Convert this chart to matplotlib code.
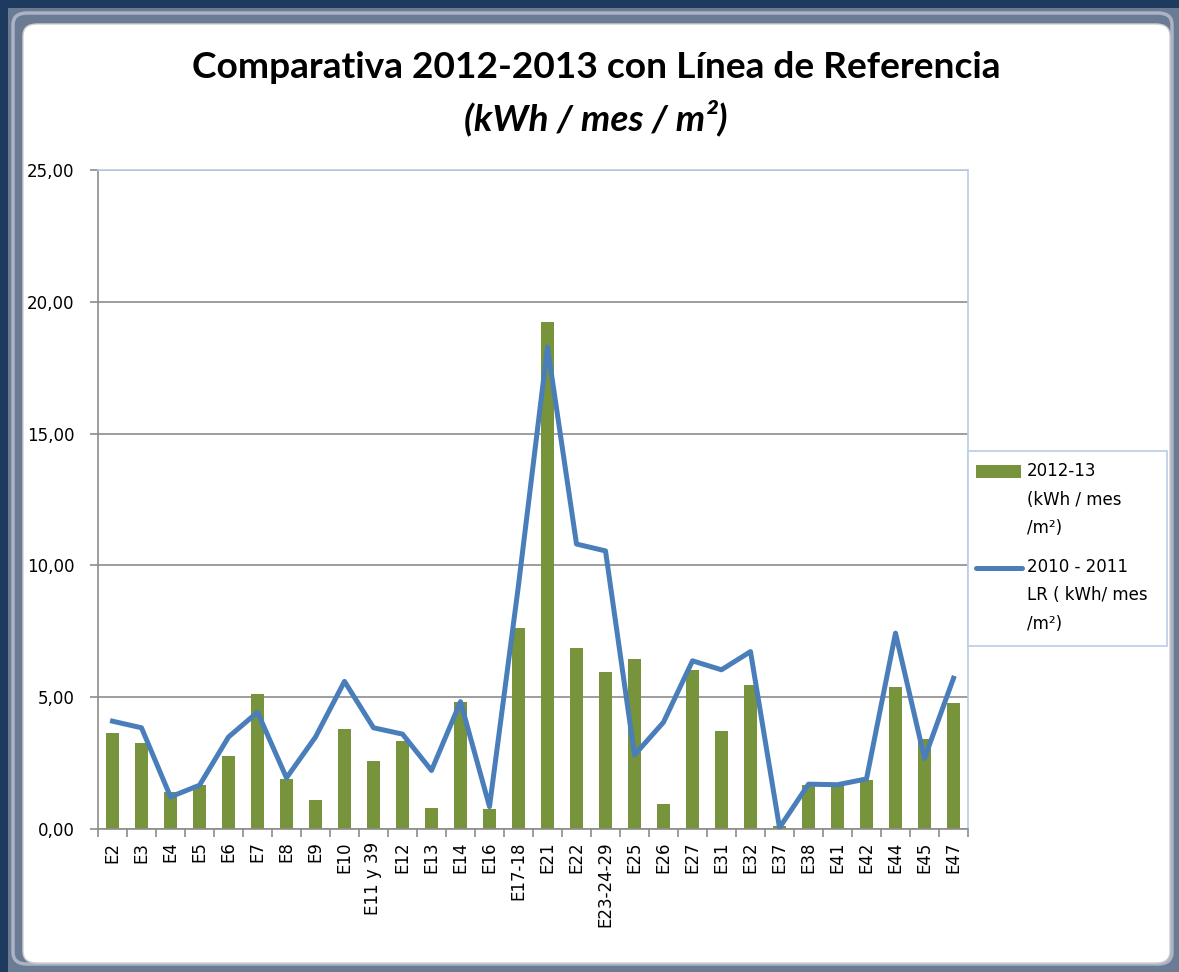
import matplotlib
matplotlib.use('Agg')
import matplotlib.pyplot as plt
from matplotlib.patches import Rectangle, FancyBboxPatch
from matplotlib.lines import Line2D
from matplotlib.ticker import FixedLocator, FuncFormatter
import numpy as np

plt.rcParams['font.family'] = ['DejaVu Sans']

# data
edificios = ['E2', 'E3', 'E4', 'E5', 'E6', 'E7', 'E8', 'E9', 'E10', 'E11 y 39',
             'E12', 'E13', 'E14', 'E16', 'E17-18', 'E21', 'E22', 'E23-24-29',
             'E25', 'E26', 'E27', 'E31', 'E32', 'E37', 'E38', 'E41', 'E42',
             'E44', 'E45', 'E47']
consumo_2012_13 = [3.65, 3.27, 1.41, 1.66, 2.77, 5.13, 1.88, 1.10, 3.78, 2.57,
                   3.35, 0.78, 4.83, 0.77, 7.64, 19.23, 6.85, 5.97,
                   6.46, 0.95, 6.04, 3.73, 5.47, 0.10, 1.67, 1.62, 1.86,
                   5.40, 3.40, 4.77]
ref_2010_11 = [4.09, 3.84, 1.22, 1.66, 3.49, 4.43, 1.94, 3.49, 5.60, 3.84,
               3.60, 2.22, 4.83, 0.85, 9.25, 18.28, 10.81, 10.55,
               2.81, 4.05, 6.38, 6.04, 6.73, 0.05, 1.70, 1.68, 1.90,
               7.43, 2.68, 5.72]

W, H = 1179, 972
fig = plt.figure(figsize=(W / 100, H / 100), dpi=100)

# window frame
fig.patches.append(Rectangle((0, 0), 1, 1, transform=fig.transFigure,
                             facecolor='#6b7b93', edgecolor='none', zorder=-10))
fig.patches.append(Rectangle((0, 1 - 8 / H), 1, 8 / H, transform=fig.transFigure,
                             facecolor='#1f3a5f', edgecolor='none', zorder=-9))
fig.patches.append(Rectangle((0, 0), 8 / W, 1, transform=fig.transFigure,
                             facecolor='#1f3a5f', edgecolor='none', zorder=-9))
fig.patches.append(FancyBboxPatch((13 / W, 8 / H), 1 - 20 / W, 1 - 21 / H,
                                  boxstyle='round,pad=0,rounding_size=0.012',
                                  transform=fig.transFigure, facecolor='none',
                                  edgecolor='#aab4c4', lw=2.5, zorder=-8))
fig.patches.append(FancyBboxPatch((23 / W, 9 / H), 1 - 32 / W, 1 - 33 / H,
                                  boxstyle='round,pad=0,rounding_size=0.012',
                                  transform=fig.transFigure, facecolor='white',
                                  edgecolor='#d0d0d0', lw=1, zorder=-7))

ax = fig.add_axes([98 / W, (H - 829) / H, 870 / W, 659 / H])
x = np.arange(len(edificios))
ax.bar(x, consumo_2012_13, width=0.42, color='#77933C', zorder=2)
ax.plot(x, ref_2010_11, color='#4A7EBB', lw=3.6, solid_joinstyle='round', zorder=3)

ax.set_xlim(-0.5, len(edificios) - 0.5)
ax.set_ylim(0, 25)
ax.set_yticks([0, 5, 10, 15, 20, 25])
ax.yaxis.set_major_formatter(FuncFormatter(lambda v, p: f'{v:.2f}'.replace('.', ',')))
ax.grid(axis='y', color='#8c8c8c', lw=1.2, zorder=0)

ax.set_xticks(x)
ax.set_xticklabels(edificios, rotation=90, va='top', ha='center')
ax.xaxis.set_minor_locator(FixedLocator(np.arange(-0.5, len(edificios), 1)))
ax.tick_params(axis='x', which='major', length=0, pad=9, labelsize=12)
ax.tick_params(axis='x', which='minor', length=6, color='#8c8c8c', width=1.2)
ax.tick_params(axis='y', length=6, color='#8c8c8c', width=1.2, pad=11, labelsize=12)

for side in ['top', 'right']:
    ax.spines[side].set_color('#b9cde5')
    ax.spines[side].set_linewidth(1.2)
for side in ['left', 'bottom']:
    ax.spines[side].set_color('#8c8c8c')
    ax.spines[side].set_linewidth(1.2)

# title
fig.text(596 / W, 1 - 68 / H, 'Comparativa 2012-2013 con Línea de Referencia',
         ha='center', va='center', fontsize=26.7, fontweight='bold', family='Lato')
fig.text(596 / W, 1 - 118 / H, '(kWh / mes / m²)', ha='center', va='center',
         fontsize=26.7, fontweight='bold', style='italic', family='Lato')

# legend
fig.patches.append(Rectangle((968 / W, 1 - 646 / H), 199 / W, 195 / H,
                             transform=fig.transFigure, facecolor='white',
                             edgecolor='#b9cde5', lw=1.2))
fig.patches.append(Rectangle((976 / W, 1 - 478 / H), 45 / W, 13 / H,
                             transform=fig.transFigure, facecolor='#77933C',
                             edgecolor='none'))
fig.lines.append(Line2D([976 / W, 1022 / W], [1 - 568 / H, 1 - 568 / H],
                        transform=fig.transFigure, color='#4A7EBB', lw=3.6,
                        solid_capstyle='round'))
fig.text(1027 / W, 1 - 462 / H, '2012-13\n(kWh / mes\n/m²)', ha='left', va='top',
         fontsize=12, linespacing=1.75)
fig.text(1027 / W, 1 - 558 / H, '2010 - 2011\nLR ( kWh/ mes\n/m²)', ha='left', va='top',
         fontsize=12, linespacing=1.75)

fig.savefig('out.png', dpi=100)
